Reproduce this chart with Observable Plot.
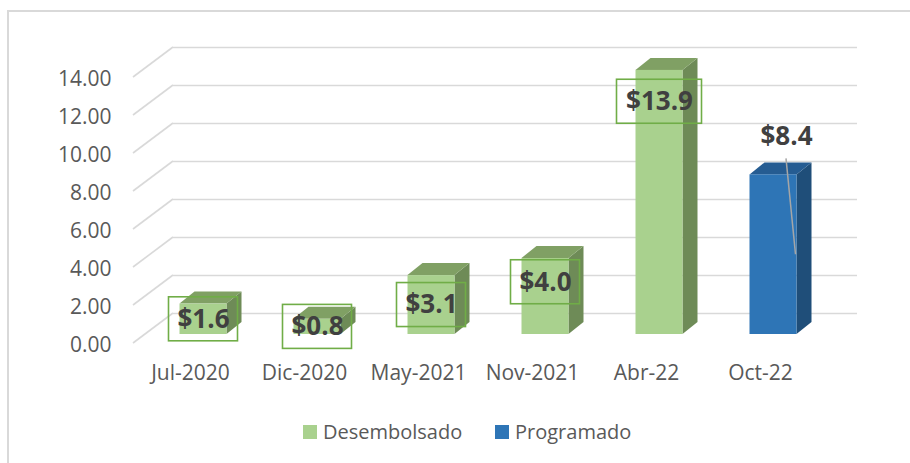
<!DOCTYPE html>
<html><head><meta charset="utf-8">
<script src="https://cdn.jsdelivr.net/npm/d3@7"></script>
<script src="https://cdn.jsdelivr.net/npm/@observablehq/plot@0.6"></script>
<style>
body{margin:0;background:#fff;font-family:"Open Sans",sans-serif;}
#wrap{position:relative;width:910px;height:463px;overflow:hidden;background:#fff;}
#chart{position:absolute;left:0;top:0;}
#border{position:absolute;left:7px;top:10px;width:930px;height:480px;border:2px solid #d9d9d9;box-sizing:border-box;pointer-events:none;}
.lg{position:absolute;top:421px;display:flex;align-items:center;font-size:20px;color:#595959;line-height:22px;}
.sw{width:14px;height:14px;margin-right:6px;}
</style></head>
<body>
<div id="wrap"><div id="chart"></div><div id="border"></div>
<div class="lg" style="left:303px"><div class="sw" style="background:#a9d18e"></div>Desembolsado</div>
<div class="lg" style="left:495px"><div class="sw" style="background:#2e75b6"></div>Programado</div>
</div>
<script>
const categories = ["Jul-2020", "Dic-2020", "May-2021", "Nov-2021", "Abr-22", "Oct-22"];
const values = [1.6, 0.8, 3.1, 4.0, 13.9, 8.4];
const series = ["Desembolsado", "Desembolsado", "Desembolsado", "Desembolsado", "Desembolsado", "Programado"];
const labelAnchor = [0.8, 0.4, 1.55, 2.75, 12.25, 10.4];
const yTicks = [0, 2, 4, 6, 8, 10, 12, 14];
const seriesNames = ["Desembolsado", "Programado"];
const frontColors = ["#a9d18e", "#2e75b6"];
const sideColors = ["#6e8b57", "#1f4e79"];
const topColors = ["#80a064", "#255c92"];

const data = categories.map((c, i) => ({
  category: c, value: values[i], series: series[i],
  label: "$" + values[i].toFixed(1), anchor: labelAnchor[i]
}));

const WALL_X = 40, WALL_Y = -30;
const FX = 13, FY = -9;
const BX = 15, BY = -12;
const INSET = 33.5;

function wallLines(index, scales, vals, dims) {
  const g = d3.create("svg:g").attr("stroke", "#d9d9d9").attr("stroke-width", 1.6);
  for (const t of yTicks) {
    const y = scales.y(t);
    g.append("line").attr("x1", dims.marginLeft).attr("y1", y)
      .attr("x2", dims.marginLeft + WALL_X).attr("y2", y + WALL_Y);
  }
  return g.node();
}

function barDepth(index, scales) {
  const g = d3.create("svg:g");
  const bw = scales.x.bandwidth();
  for (const d of data) {
    const k = seriesNames.indexOf(d.series);
    const x0 = scales.x(d.category) + INSET + FX;
    const x1 = scales.x(d.category) + bw - INSET + FX;
    const yt = scales.y(d.value) + FY, yb = scales.y(0) + FY;
    g.append("polygon").attr("points", [[x1, yt], [x1 + BX, yt + BY], [x1 + BX, yb + BY], [x1, yb]].join(" "))
      .attr("fill", sideColors[k]);
    g.append("polygon").attr("points", [[x0, yt], [x1, yt], [x1 + BX, yt + BY], [x0 + BX, yt + BY]].join(" "))
      .attr("fill", topColors[k]);
  }
  return g.node();
}

function labelDecor(index, scales) {
  const g = d3.create("svg:g");
  const bw = scales.x.bandwidth();
  for (const d of data) {
    const cx = scales.x(d.category) + bw / 2 + FX;
    const cy = scales.y(d.anchor) + FY;
    if (d.series === "Desembolsado") {
      const w = 16 * d.label.length + 5;
      g.append("rect").attr("x", cx - w / 2).attr("y", cy - 22).attr("width", w).attr("height", 44)
        .attr("fill", "none").attr("stroke", "#70ad47").attr("stroke-width", 1.6);
    } else {
      const x1 = scales.x(d.category) + bw - INSET + FX;
      g.append("line").attr("x1", cx + 13).attr("y1", cy + 22)
        .attr("x2", x1 - 1).attr("y2", scales.y(d.value / 2) + FY)
        .attr("stroke", "#a6a6a6").attr("stroke-width", 1.5);
    }
  }
  return g.node();
}

const plot = Plot.plot({
  width: 910, height: 400,
  marginLeft: 133, marginRight: 93, marginTop: 77, marginBottom: 57,
  x: {domain: categories, padding: 0, label: null},
  y: {domain: [0, 14], label: null},
  color: {domain: seriesNames, range: frontColors},
  style: {fontFamily: "'Open Sans', sans-serif", color: "#595959", background: "transparent", overflow: "visible"},
  marks: [
    Plot.ruleY(yTicks, {dx: WALL_X, dy: WALL_Y, stroke: "#d9d9d9", strokeWidth: 1.6}),
    wallLines,
    Plot.axisY(yTicks, {tickSize: 0, tickPadding: 22, tickFormat: d3.format(".2f"), fontSize: 21, dy: 2}),
    Plot.axisX({tickSize: 0, tickPadding: 22, fontSize: 21}),
    barDepth,
    Plot.barY(data, {x: "category", y: "value", fill: "series", insetLeft: INSET, insetRight: INSET, dx: FX, dy: FY}),
    labelDecor,
    Plot.text(data.filter(d => d.series === "Desembolsado"), {x: "category", y: "anchor", text: "label", dx: FX, dy: FY, fontSize: 26, fontWeight: "bold", fill: "#404040"}),
    Plot.text(data.filter(d => d.series === "Programado"), {x: "category", y: "anchor", text: "label", dx: FX + 13, dy: FY, fontSize: 26, fontWeight: "bold", fill: "#404040"})
  ]
});
document.getElementById("chart").appendChild(plot);
</script>
</body></html>
